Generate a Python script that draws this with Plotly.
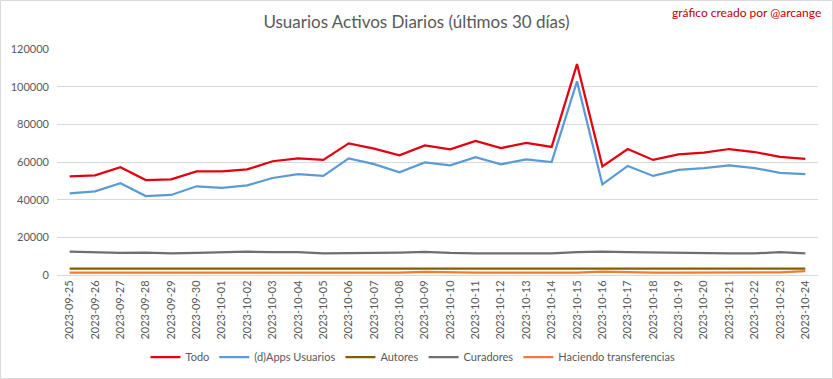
import plotly.graph_objects as go

dates = ["2023-09-25", "2023-09-26", "2023-09-27", "2023-09-28", "2023-09-29", "2023-09-30",
         "2023-10-01", "2023-10-02", "2023-10-03", "2023-10-04", "2023-10-05", "2023-10-06",
         "2023-10-07", "2023-10-08", "2023-10-09", "2023-10-10", "2023-10-11", "2023-10-12",
         "2023-10-13", "2023-10-14", "2023-10-15", "2023-10-16", "2023-10-17", "2023-10-18",
         "2023-10-19", "2023-10-20", "2023-10-21", "2023-10-22", "2023-10-23", "2023-10-24"]

todo = [52400, 52900, 57200, 50400, 50800, 55000, 55000, 56100, 60400, 61900,
        61100, 69900, 67100, 63500, 68800, 66700, 71200, 67400, 70100, 68000,
        112000, 57700, 66900, 61100, 64100, 65000, 66900, 65300, 62700, 61600]

dapps = [43400, 44400, 48700, 41900, 42500, 47100, 46200, 47600, 51500, 53500,
         52600, 61900, 58900, 54500, 59800, 58200, 62500, 58800, 61400, 60000,
         102800, 48100, 57900, 52600, 55800, 56800, 58200, 56800, 54200, 53500]

autores = [3400, 3400, 3400, 3300, 3300, 3000, 3100, 3400, 3400, 3400,
           3400, 3400, 3300, 3100, 3200, 3300, 3300, 3300, 3100, 3100,
           3100, 3300, 3400, 3400, 3300, 3200, 3000, 3000, 3300, 3400]

curadores = [12400, 12100, 11700, 11900, 11500, 11700, 12100, 12400, 12100, 12100,
             11500, 11500, 11500, 11900, 12300, 11700, 11500, 11500, 11500, 11500,
             12100, 12400, 12100, 11900, 11700, 11500, 11500, 11500, 12100, 11500]

transferencias = [1200, 1200, 1200, 1200, 1200, 1300, 1600, 1300, 1200, 1200,
                  1200, 1200, 1200, 1300, 1700, 1300, 1200, 1200, 1200, 1200,
                  1300, 1800, 1300, 1200, 1200, 1200, 1200, 1200, 1400, 2000]

y_ticks = [0, 20000, 40000, 60000, 80000, 100000, 120000]

series = [
    ("Todo", todo, "#e3000f"),
    ("(d)Apps Usuarios", dapps, "#5b9bd5"),
    ("Autores", autores, "#7f6000"),
    ("Curadores", curadores, "#6f6f6f"),
    ("Haciendo transferencias", transferencias, "#ed7d31"),
]

FONT = "Lato, sans-serif"

fig = go.Figure()
for name, vals, color in series:
    fig.add_trace(go.Scatter(x=dates, y=vals, name=name, mode="lines",
                             line=dict(color=color, width=2.25)))

W, H = 833, 379
ml, mr, mt, mb = 57, 15, 49, 104
pw, ph = W - ml - mr, H - mt - mb

fig.update_layout(
    width=W, height=H,
    margin=dict(l=ml, r=mr, t=mt, b=mb, autoexpand=False),
    paper_bgcolor="white", plot_bgcolor="white",
    font=dict(family=FONT, color="#595959", size=11),
    title=dict(text="Usuarios Activos Diarios (últimos 30 días)", x=0.5, xref="container",
               y=1 - 22 / H, yref="container", yanchor="middle", xanchor="center",
               font=dict(family=FONT, size=17, color="#595959")),
    showlegend=True,
    legend=dict(orientation="h", x=(413 - ml) / pw, xanchor="center",
                y=-(357 - (H - mb)) / ph, yanchor="middle",
                font=dict(family=FONT, size=11, color="#595959"),
                itemwidth=30, tracegroupgap=0,
                bgcolor="rgba(0,0,0,0)"),
    xaxis=dict(type="category", range=[-0.5, len(dates) - 0.5], tickangle=-90,
               showgrid=False, showline=True, linecolor="#d9d9d9", linewidth=1,
               automargin=False,
               ticks="", tickfont=dict(family=FONT, size=11, color="#595959")),
    yaxis=dict(range=[0, 120000], tickvals=y_ticks, ticktext=[str(v) for v in y_ticks],
               showgrid=True, gridcolor="#d9d9d9", gridwidth=1, zeroline=False,
               automargin=False, ticklabelstandoff=7,
               ticks="", tickfont=dict(family=FONT, size=11, color="#595959")),
    annotations=[dict(text="gráfico creado por @arcange", xref="paper", yref="paper",
                      x=(823 - ml) / pw, y=(H - mb - 13) / ph, xanchor="right", yanchor="middle",
                      showarrow=False, font=dict(family=FONT, size=12, color="#c00000"))],
    shapes=[dict(type="rect", xref="paper", yref="paper",
                 x0=(0.5 - ml) / pw, x1=(W - 0.5 - ml) / pw,
                 y0=-(mb - 0.5) / ph, y1=(H - mb - 0.5) / ph,
                 line=dict(color="#d9d9d9", width=1), layer="below")],
)

fig.write_html("out.html", config={"displayModeBar": False},
               post_script="document.body.style.margin='0';document.body.style.overflow='hidden';")
